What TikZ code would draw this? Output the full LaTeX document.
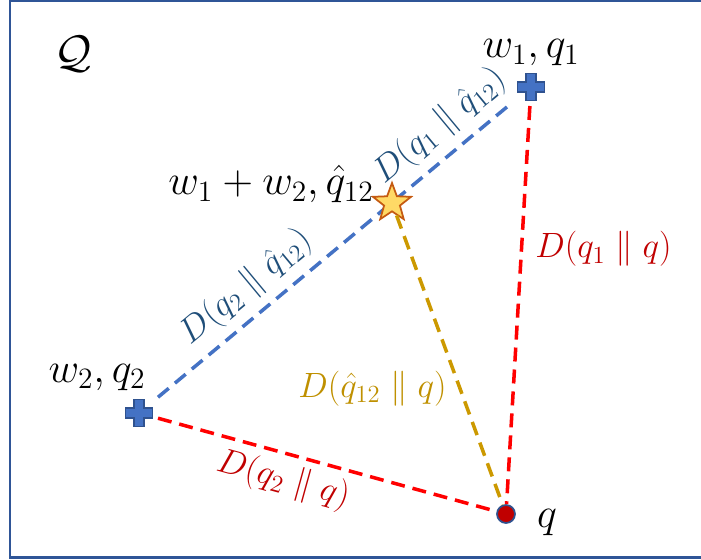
\RequirePackage{fix-cm}
\documentclass[tikz,border=0pt]{standalone}
\usepackage{tikz}
\usetikzlibrary{shapes.geometric}
\definecolor{FrameBlue}{RGB}{47,85,151}
\definecolor{PlusFill}{RGB}{68,114,196}
\definecolor{PlusEdge}{RGB}{47,82,143}
\definecolor{LineBlue}{RGB}{68,114,196}
\definecolor{TextBlue}{RGB}{31,78,121}
\definecolor{LineRed}{RGB}{255,0,0}
\definecolor{TextRed}{RGB}{192,0,0}
\definecolor{LineGold}{RGB}{204,153,0}
\definecolor{TextGold}{RGB}{191,144,0}
\definecolor{StarFill}{RGB}{255,217,102}
\definecolor{StarEdge}{RGB}{197,90,17}
\tikzset{
  plusnode/.style={rectangle,minimum size=0.6cm,inner sep=0pt,outer sep=0.08cm,
    path picture={\filldraw[fill=PlusFill,draw=PlusEdge,line width=0.8pt,
      shift={(path picture bounding box.center)}]
      (-5,-13.5) -- (5,-13.5) -- (5,-5) -- (13.5,-5) -- (13.5,5) -- (5,5) --
      (5,13.5) -- (-5,13.5) -- (-5,5) -- (-13.5,5) -- (-13.5,-5) -- (-5,-5) -- cycle;}},
  starnode/.style={star,star points=5,star point ratio=2.4,minimum size=0.8cm,
    inner sep=0pt,fill=StarFill,draw=StarEdge,line width=1pt},
  dotnode/.style={circle,minimum size=0.36cm,inner sep=0pt,fill=TextRed,
    draw=PlusEdge,line width=1pt},
  mainlabel/.style={inner sep=0pt,font=\fontsize{24}{28}\selectfont},
  dlabel/.style={font=\fontsize{20}{24}\selectfont},
  kldash/.style={line width=2pt,dash pattern=on 0.28cm off 0.16cm}
}
\begin{document}
\begin{tikzpicture}[x=0.02cm,y=0.02cm]
  \path[use as bounding box,clip] (0,0) rectangle (701,559);
  \draw[FrameBlue,line width=0.06cm] (10,2) rectangle (716,558.5);
  \node[font=\fontsize{26}{30}\selectfont,inner sep=0pt,anchor=base] (space) at (73,491) {$\mathcal{Q}$};
  % points of the simplex
  \node[plusnode] (p1) at (531,472) {};
  \node[plusnode] (p2) at (139,146) {};
  \node[dotnode] (qdot) at (506,45) {};
  \draw[kldash,LineBlue] (p2) -- (p1)
    node[dlabel,TextBlue,sloped,above,inner sep=5pt,pos=0.30] (d2s) {$D(q_2 \parallel \hat{q}_{12})$}
    node[dlabel,TextBlue,sloped,above,inner sep=5pt,pos=0.847] (d1s) {$D(q_1 \parallel \hat{q}_{12})$};
  \node[starnode] (star) at (392,356) {};
  \draw[kldash,LineRed] (p1) -- (qdot);
  \draw[kldash,LineRed] (p2) -- (qdot)
    node[dlabel,TextRed,sloped,below,inner sep=4pt,pos=0.39] (d2q) {$D(q_2 \parallel q)$};
  \draw[kldash,LineGold] (star) -- (qdot);
  % labels
  \node[mainlabel,anchor=base] (lblp1) at (531,501) {$w_1, q_1$};
  \node[mainlabel,anchor=base] (lblp2) at (97,177) {$w_2, q_2$};
  \node[mainlabel,anchor=base] (lblstar) at (271,364) {$w_1 + w_2, \hat{q}_{12}$};
  \node[mainlabel,anchor=base] (lblq) at (547,32) {$q$};
  \node[dlabel,TextRed,inner sep=0pt,anchor=base west] (d1q) at (535,301) {$D(q_1 \parallel q)$};
  \node[dlabel,TextGold,inner sep=0pt,anchor=base east] (dsq) at (447,162) {$D(\hat{q}_{12} \parallel q)$};
\end{tikzpicture}
\end{document}
